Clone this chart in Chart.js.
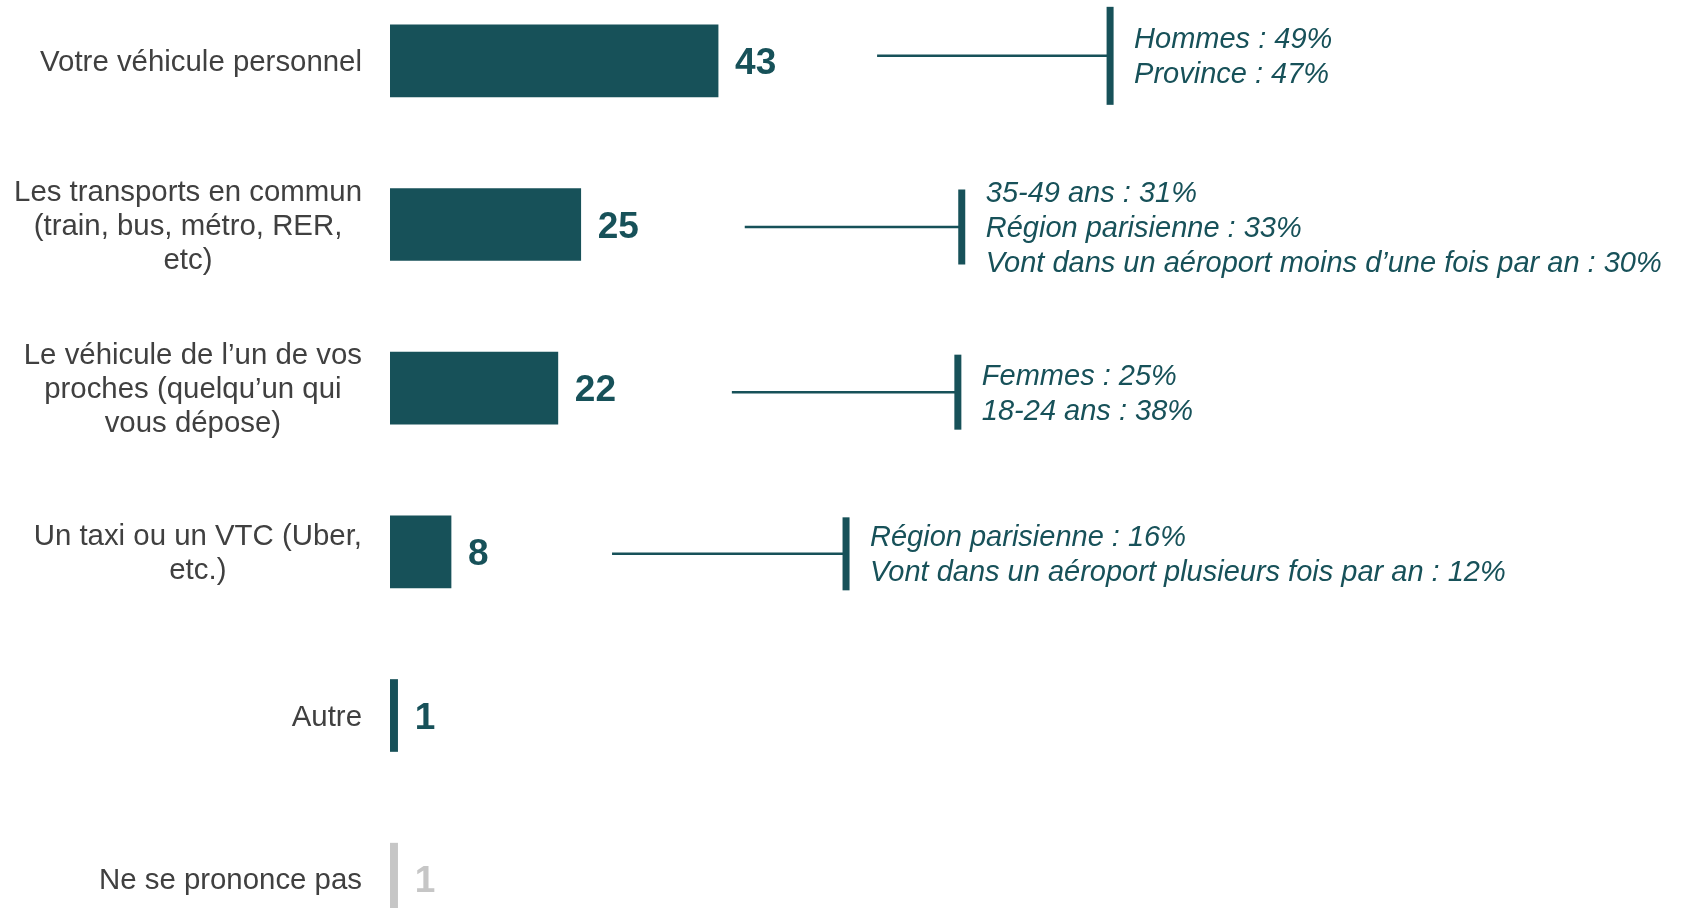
<!DOCTYPE html>
<html>
<head>
<meta charset="utf-8">
<script src="https://cdn.jsdelivr.net/npm/chart.js@4"></script>
<style>
  html, body { margin: 0; padding: 0; background: #ffffff; overflow: hidden; width: 1681px; height: 908px; }
  #wrap { position: absolute; left: 0; top: -21px; width: 1681px; height: 982px; }
</style>
</head>
<body>
<div id="wrap"><canvas id="c"></canvas></div>
<script>
const categories = [
  ["Votre véhicule personnel"],
  ["Les transports en commun", "(train, bus, métro, RER,", "etc)"],
  ["Le véhicule de l\u2019un de vos", "proches (quelqu\u2019un qui", "vous dépose)"],
  ["Un taxi ou un VTC (Uber,", "etc.)"],
  ["Autre"],
  ["Ne se prononce pas"]
];
const values = [43, 25, 22, 8, 1, 1];
const details = [
  ["Hommes : 49%", "Province : 47%"],
  ["35-49 ans : 31%", "Région parisienne : 33%", "Vont dans un aéroport moins d\u2019une fois par an : 30%"],
  ["Femmes : 25%", "18-24 ans : 38%"],
  ["Région parisienne : 16%", "Vont dans un aéroport plusieurs fois par an : 12%"],
  [],
  []
];

// callout placement (pixels relative to the end of each bar) — layout only
const calloutLayout = [
  { start: 159, bracket: 392, dy: -5, half: 49 },
  { start: 164, bracket: 381, dy: 2.5, half: 37.5 },
  { start: 174, bracket: 400, dy: 4, half: 37.5 },
  { start: 161, bracket: 395, dy: 2, half: 36.5 }
];

const TEAL = '#175159';
const GREY = '#c6c6c6';
const LABEL_GREY = '#404040';
const barColors = values.map((v, i) => i === values.length - 1 ? GREY : TEAL);
const FONT = "'Liberation Sans', Arial, Helvetica, sans-serif";

// category labels: block right-aligned against the axis, lines centered inside the block
const categoryLabels = {
  id: 'categoryLabels',
  afterDraw(chart) {
    const ctx = chart.ctx;
    const yScale = chart.scales.y;
    const right = chart.chartArea.left - 28;
    const lh = 34;
    ctx.save();
    ctx.font = '29.4px ' + FONT;
    ctx.fillStyle = LABEL_GREY;
    ctx.textAlign = 'center';
    ctx.textBaseline = 'middle';
    categories.forEach((lines, i) => {
      const y = yScale.getPixelForTick(i) + 2;
      const w = Math.max(...lines.map(t => ctx.measureText(t).width));
      const cx = right - w / 2;
      const top = y - (lines.length - 1) * lh / 2;
      lines.forEach((t, k) => ctx.fillText(t, cx, top + k * lh));
    });
    ctx.restore();
  }
};

const valueLabels = {
  id: 'valueLabels',
  afterDatasetsDraw(chart) {
    const ctx = chart.ctx;
    const meta = chart.getDatasetMeta(0);
    ctx.save();
    ctx.font = 'bold 37px ' + FONT;
    ctx.textAlign = 'left';
    ctx.textBaseline = 'middle';
    meta.data.forEach((bar, i) => {
      ctx.fillStyle = barColors[i];
      ctx.fillText(String(values[i]), bar.x + 17, bar.y + 3);
    });
    ctx.restore();
  }
};

const detailNotes = {
  id: 'detailNotes',
  afterDatasetsDraw(chart) {
    const ctx = chart.ctx;
    const meta = chart.getDatasetMeta(0);
    ctx.save();
    meta.data.forEach((bar, i) => {
      const lines = details[i];
      if (!lines.length) return;
      const L = calloutLayout[i];
      const x0 = bar.x + L.start;
      const xv = bar.x + L.bracket;
      const y = bar.y + L.dy;
      ctx.strokeStyle = TEAL;
      ctx.lineWidth = 2.5;
      ctx.beginPath();
      ctx.moveTo(x0, y);
      ctx.lineTo(xv, y);
      ctx.stroke();
      const lh = 35;
      ctx.fillStyle = TEAL;
      ctx.fillRect(xv - 3.5, y - L.half, 7, L.half * 2);
      ctx.font = 'italic 29px ' + FONT;
      ctx.textAlign = 'left';
      ctx.textBaseline = 'middle';
      const top = y + 2 - (lines.length - 1) * lh / 2;
      lines.forEach((t, k) => ctx.fillText(t, xv + 24, top + k * lh));
    });
    ctx.restore();
  }
};

new Chart(document.getElementById('c'), {
  type: 'bar',
  data: {
    labels: categories.map(l => l.join(' ')),
    datasets: [{
      data: values,
      backgroundColor: barColors,
      borderWidth: 0,
      barThickness: 72,
      categoryPercentage: 1
    }]
  },
  options: {
    indexAxis: 'y',
    responsive: true,
    maintainAspectRatio: false,
    animation: false,
    layout: { padding: { left: 0, right: 528, top: 0, bottom: 0 } },
    plugins: { legend: { display: false }, tooltip: { enabled: false } },
    scales: {
      x: { display: false, min: 0, max: 100 },
      y: {
        grid: { display: false, drawTicks: false },
        border: { display: false },
        ticks: { display: false },
        afterFit(scale) {
          scale.width = 390;
          scale.paddingTop = 0;
          scale.paddingBottom = 0;
        }
      }
    }
  },
  plugins: [categoryLabels, valueLabels, detailNotes]
});
</script>
</body>
</html>
